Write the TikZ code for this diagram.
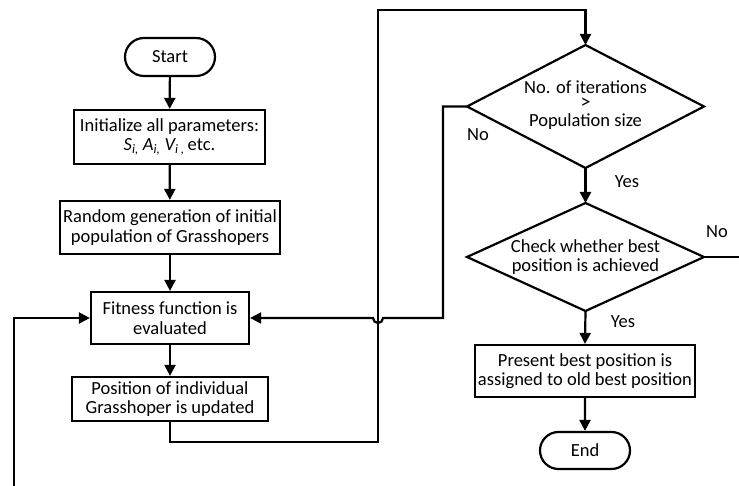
\documentclass[tikz,border=0pt]{standalone}
\usepackage{fontspec}
\setmainfont{Carlito}
\usetikzlibrary{arrows.meta,shapes.misc}
\begin{document}
\begin{tikzpicture}[x=1pt,y=-1pt,
  font=\fontsize{18.5}{19.5}\selectfont,
  line width=2.2pt,
  arr/.style={-{Triangle[length=11pt,width=11pt]}},
  procbox/.style={draw,rectangle,inner sep=0pt,align=center},
  term/.style={draw,rounded rectangle,inner sep=0pt,align=center},
  txt/.style={inner sep=0pt,align=center},
  lbl/.style={inner sep=0pt}]
\useasboundingbox (0,0) rectangle (739,486);
\node[term,minimum width=90pt,minimum height=38pt] (start) at (170,57) {Start};
\node[procbox,minimum width=191pt,minimum height=54pt] (init) at (169.5,137) {Initialize all parameters:\\{\itshape S\textsubscript{i,} A\textsubscript{i,} V\textsubscript{i ,}}\,etc.};
\node[procbox,minimum width=220pt,minimum height=53pt] (rand) at (170,227.5) {Random generation of initial\\population of Grasshopers};
\node[procbox,minimum width=158pt,minimum height=52pt] (fit) at (170,318) {Fitness function is\\evaluated};
\node[procbox,minimum width=196pt,minimum height=44pt] (pos) at (170,399) {Position of individual\\Grasshoper is updated};
% diamond 1
\coordinate (d1t) at (585.5,45);
\coordinate (d1b) at (585.5,168);
\coordinate (d1l) at (467,106.5);
\coordinate (d1r) at (704,106.5);
\draw[line join=miter] (d1t) -- (d1r) -- (d1b) -- (d1l) -- cycle;
\node[txt,text height=9pt,text depth=1pt] (d1a) at (585.5,89.5) {No. of iterations};
\node[txt,text height=8pt,text depth=0pt,font=\fontsize{20}{20}\selectfont] (d1g) at (585.5,105) {>};
\node[txt,text height=9pt,text depth=2pt] (d1c) at (585.5,123.5) {Population size};
% diamond 2
\coordinate (d2t) at (585.5,203);
\coordinate (d2b) at (585.5,311);
\coordinate (d2l) at (467,257);
\coordinate (d2r) at (704,257);
\draw[line join=miter] (d2t) -- (d2r) -- (d2b) -- (d2l) -- cycle;
\node[txt] (d2) at (585.5,257) {Check whether best\\position is achieved};
\node[procbox,minimum width=220pt,minimum height=52pt] (pres) at (585,371) {Present best position is\\assigned to old best position};
\node[term,minimum width=90pt,minimum height=37pt] (end) at (585,450.5) {End};
\coordinate (p1) at (170,442);
\coordinate (p2) at (378,442);
\coordinate (p3) at (378,10);
\coordinate (p4) at (585.5,10);
\coordinate (q1) at (443,106.5);
\coordinate (q2) at (443,318);
\coordinate (h1) at (383,318);
\coordinate (r1) at (739,257);
\coordinate (l1) at (14,486);
\coordinate (l2) at (14,318);
\draw[arr] (start) -- (init);
\draw[arr] (init) -- (rand);
\draw[arr] (rand) -- (fit);
\draw[arr] (fit) -- (pos);
\draw[arr] (pos.south) -- (p1) -- (p2) -- (p3) -- (p4) -- (d1t);
\draw[arr] (d1l) -- (q1) -- (q2) -- (h1) arc[start angle=0,end angle=180,radius=5] -- (fit.east);
\draw[arr] (d1b) -- (d2t);
\draw[arr] (d2b) -- (pres.north);
\draw[arr] (pres) -- (end);
\draw (d2r) -- (r1);
\draw[arr] (l1) -- (l2) -- (fit.west);
\node[lbl] (no1) at (478,135) {No};
\node[lbl] (yes1) at (627,182) {Yes};
\node[lbl] (no2) at (717,232) {No};
\node[lbl] (yes2) at (623,322) {Yes};
\end{tikzpicture}
\end{document}
